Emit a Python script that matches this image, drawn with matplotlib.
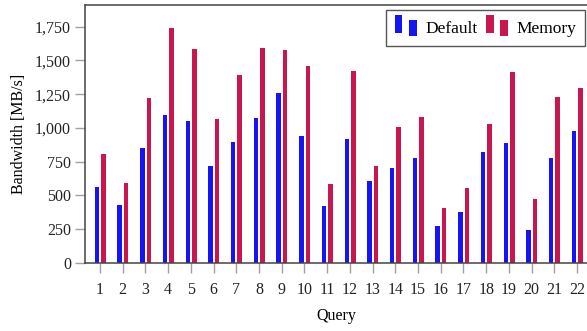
import matplotlib
matplotlib.use('Agg')
import matplotlib.pyplot as plt
import numpy as np
from matplotlib.legend_handler import HandlerBase
from matplotlib.patches import Rectangle
from matplotlib.ticker import FuncFormatter

# Data
queries = list(range(1, 23))
default_bw = [565, 430, 850, 1095, 1050, 720, 895, 1070, 1260, 940, 420,
              920, 610, 705, 780, 275, 380, 825, 885, 245, 775, 975]
memory_bw = [810, 590, 1220, 1740, 1585, 1065, 1390, 1595, 1575, 1455, 585,
             1425, 720, 1010, 1080, 405, 555, 1030, 1415, 475, 1230, 1295]
yticks = [0, 250, 500, 750, 1000, 1250, 1500, 1750]

blue = '#1414f5'
red = '#c8174e'


class TwoBars(HandlerBase):
    # pgfplots-style legend image: two small bars
    def create_artists(self, legend, orig_handle, xdescent, ydescent,
                       width, height, fontsize, trans):
        c = orig_handle.patches[0].get_facecolor()
        w = width * 0.33
        r1 = Rectangle((-xdescent, -ydescent + height * 0.15), w, height * 1.05,
                       facecolor=c, edgecolor='none', transform=trans)
        r2 = Rectangle((-xdescent + width * 0.64, -ydescent), w, height * 0.9,
                       facecolor=c, edgecolor='none', transform=trans)
        return [r1, r2]


plt.rcParams['font.family'] = ['Liberation Serif', 'DejaVu Serif']
plt.rcParams['font.size'] = 11.5

fig = plt.figure(figsize=(5.87, 3.31), dpi=100)
ax = fig.add_axes([85 / 587, 68 / 331, 1 - 85 / 587, 258 / 331])

x = np.array(queries)
bw = 0.2
b1 = ax.bar(x - 0.135, default_bw, width=bw, color=blue, label='Default')
b2 = ax.bar(x + 0.15, memory_bw, width=bw, color=red, label='Memory')

ax.set_xlim(0.34, 22.44)
ax.set_ylim(0, 1910)
ax.set_xticks(queries)
ax.set_yticks(yticks)
ax.yaxis.set_major_formatter(FuncFormatter(lambda v, p: f'{int(v):,}'))
ax.tick_params(axis='both', direction='out', length=7, width=1,
               color='#a0a0a0', labelcolor='#222222', pad=3)
ax.tick_params(axis='x', pad=7)

for s in ['left', 'bottom', 'top']:
    ax.spines[s].set_color('#444444')
    ax.spines[s].set_linewidth(1.1)
ax.spines['right'].set_visible(False)

ax.set_xlabel('Query', labelpad=7)
ax.set_ylabel('Bandwidth [MB/s]', labelpad=6)

leg = ax.legend(handler_map={b1: TwoBars(), b2: TwoBars()},
                handles=[b1, b2], loc='upper right',
                bbox_to_anchor=(0.996, 0.982), borderaxespad=0, ncol=2,
                fancybox=False, framealpha=1, edgecolor='#555555',
                handlelength=1.3, handleheight=1.2, handletextpad=0.45,
                columnspacing=0.5, borderpad=0.5, fontsize=12.5)
leg.get_frame().set_linewidth(1.0)

fig.savefig('out.png', dpi=100)
